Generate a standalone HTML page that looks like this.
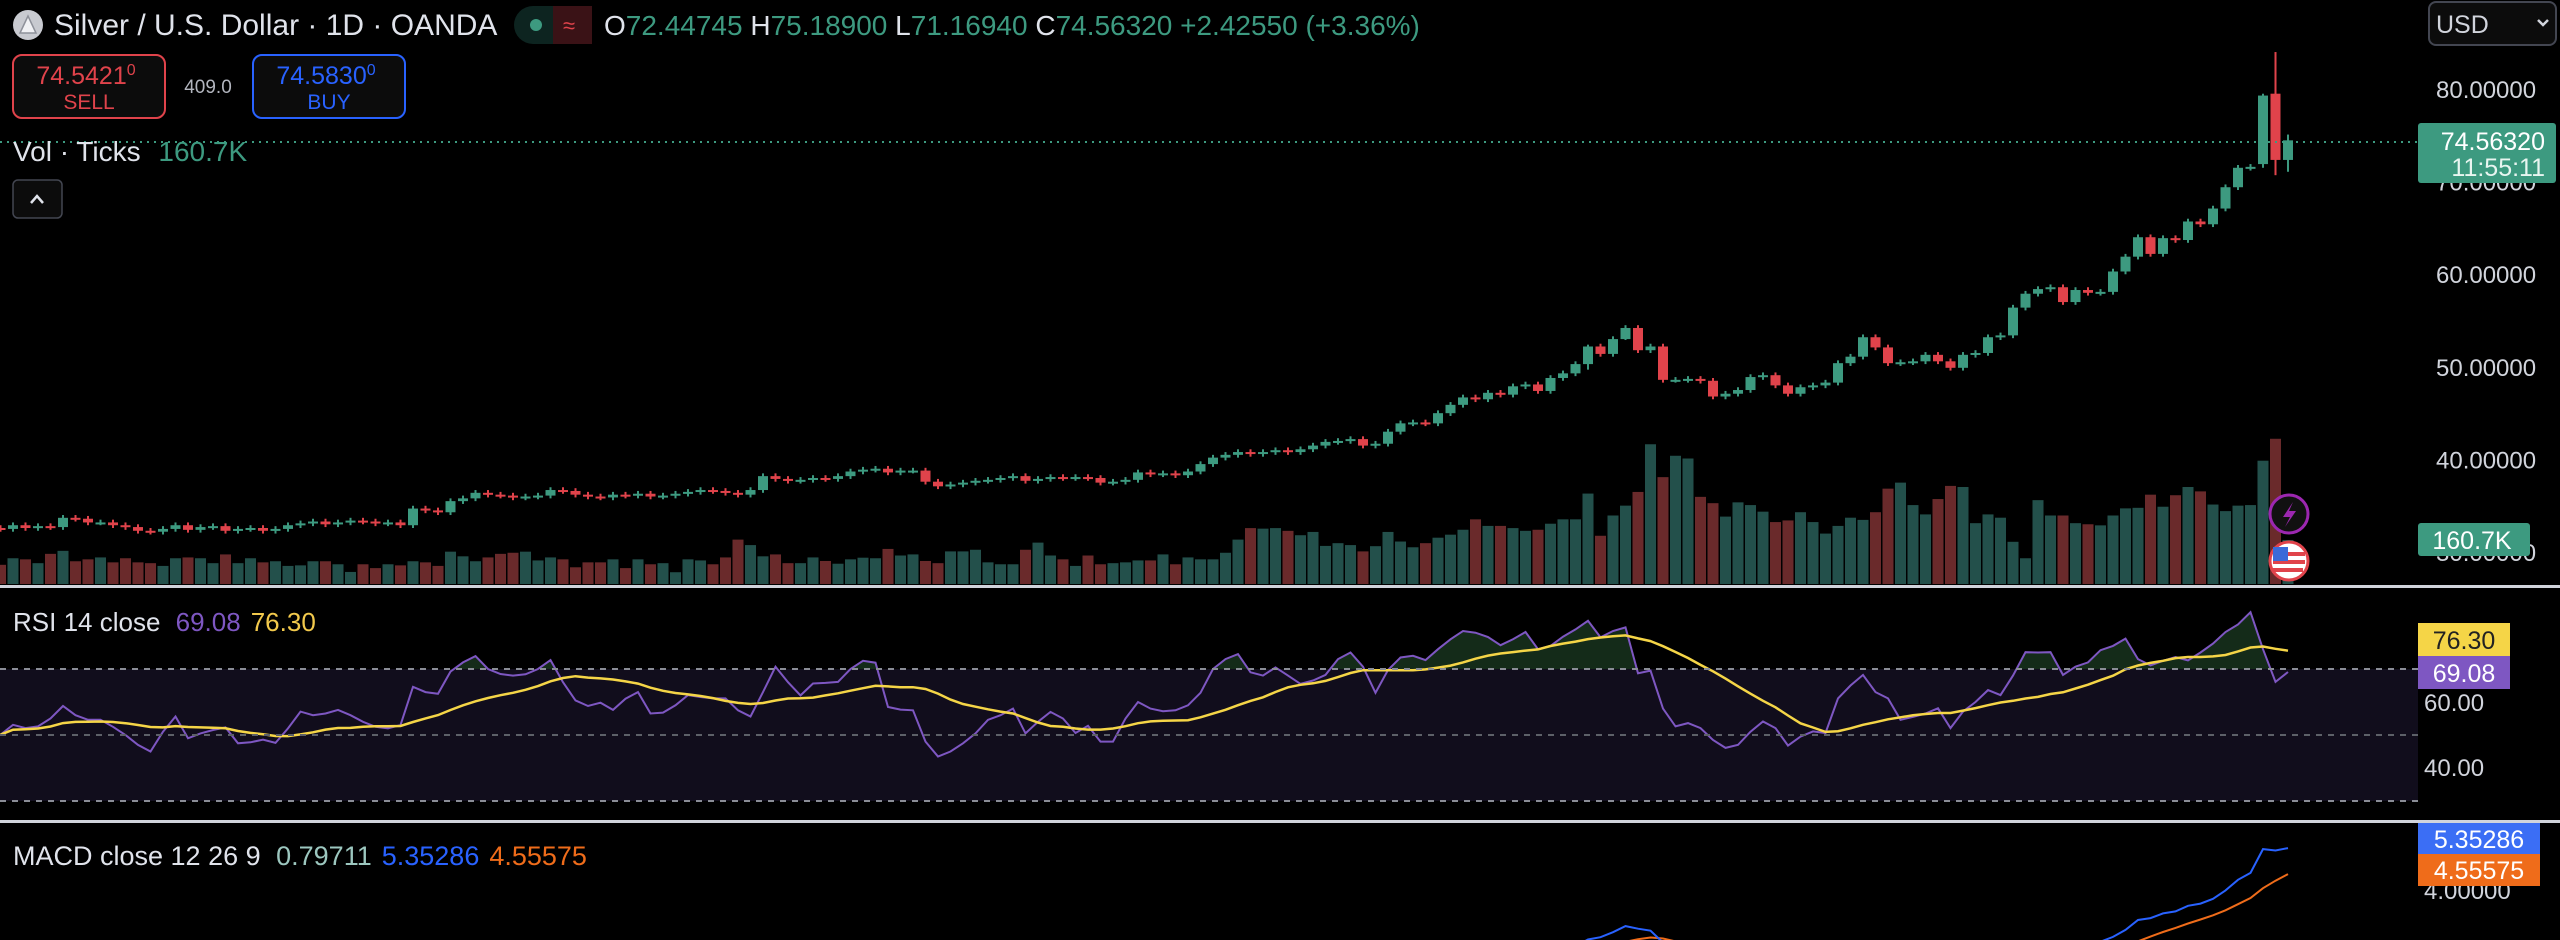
<!DOCTYPE html>
<html><head><meta charset="utf-8">
<style>
html,body{margin:0;padding:0;background:#000;width:2560px;height:940px;overflow:hidden;}
body{font-family:"Liberation Sans",sans-serif;}
svg{display:block;position:absolute;left:0;top:0;}
svg text{font-family:"Liberation Sans",sans-serif;}
</style></head>
<body>
<svg id="chart" width="2560" height="940" viewBox="0 0 2560 940" xmlns="http://www.w3.org/2000/svg">
  <rect x="0" y="0" width="2560" height="940" fill="#000"/>
  <rect x="0" y="669" width="2418" height="132" fill="#110d1c"/>
  <g id="rsiFillG"></g>
  <g id="volG"></g>
  <g id="candleG"></g>
  <g id="rsiG"></g>
  <g id="macdG"></g>

  <rect x="0" y="585" width="2560" height="3" fill="#d1d4dc"/>
  <rect x="0" y="820" width="2560" height="3" fill="#d1d4dc"/>

  <line x1="0" y1="669" x2="2418" y2="669" stroke="#8a8d96" stroke-width="2" stroke-dasharray="6,6"/>
  <line x1="0" y1="735" x2="2418" y2="735" stroke="#5d6068" stroke-width="2" stroke-dasharray="6,6"/>
  <line x1="0" y1="801" x2="2418" y2="801" stroke="#8a8d96" stroke-width="2" stroke-dasharray="6,6"/>

  <line x1="0" y1="142" x2="2418" y2="142" stroke="#3d9a80" stroke-width="2" stroke-dasharray="2,5"/>

  <circle cx="28" cy="25" r="15" fill="#c8cad0"/>
  <path d="M20 33 L28 16 L36 33 Z" fill="#f0f1f4" stroke="#8e919a" stroke-width="1.5"/>
  <text x="54" y="35" font-size="30" fill="#e0e3eb">Silver / U.S. Dollar · 1D · OANDA</text>
  <g>
    <rect x="514" y="6" width="78" height="38" rx="19" fill="#0d2420"/>
    <rect x="553" y="6" width="39" height="38" fill="#3a1216"/>
    <circle cx="536" cy="25" r="6" fill="#3d9a80"/>
    <text x="563" y="33" font-size="22" fill="#e0434b">≈</text>
  </g>
  <text x="604" y="35" font-size="28" fill="#3d9a80"><tspan fill="#e0e3eb">O</tspan>72.44745 <tspan fill="#e0e3eb">H</tspan>75.18900 <tspan fill="#e0e3eb">L</tspan>71.16940 <tspan fill="#e0e3eb">C</tspan>74.56320 +2.42550 (+3.36%)</text>

  <g>
    <rect x="13" y="55" width="152" height="63" rx="9" fill="#0c0c0c" stroke="#e0434b" stroke-width="2"/>
    <text x="86" y="84" font-size="25" fill="#e0434b" text-anchor="middle">74.5421<tspan font-size="16" dy="-9">0</tspan></text>
    <text x="89" y="109" font-size="21" fill="#e0434b" text-anchor="middle">SELL</text>
  </g>
  <text x="208" y="93" font-size="19" fill="#b2b5be" text-anchor="middle">409.0</text>
  <g>
    <rect x="253" y="55" width="152" height="63" rx="9" fill="#0c0c0c" stroke="#2962ff" stroke-width="2"/>
    <text x="326" y="84" font-size="25" fill="#2962ff" text-anchor="middle">74.5830<tspan font-size="16" dy="-9">0</tspan></text>
    <text x="329" y="109" font-size="21" fill="#2962ff" text-anchor="middle">BUY</text>
  </g>
  <text x="13" y="161" font-size="28" fill="#e0e3eb">Vol · Ticks <tspan fill="#3d9a80" dx="10">160.7K</tspan></text>
  <g>
    <rect x="13" y="180" width="49" height="38" rx="5" fill="#0c0c0c" stroke="#434651" stroke-width="1.5"/>
    <path d="M31 203 L37 196 L43 203" fill="none" stroke="#e0e3eb" stroke-width="2.5"/>
  </g>

  <g>
    <rect x="2429" y="2" width="127" height="43" rx="7" fill="#0c0c0c" stroke="#434651" stroke-width="2"/>
    <text x="2436" y="33" font-size="25" fill="#d1d4dc">USD</text>
    <path d="M2538 20 L2543 25 L2548 20" fill="none" stroke="#d1d4dc" stroke-width="2.5"/>
  </g>

  <g id="axisG" font-size="24" fill="#d1d4dc"></g>

  <g>
    <rect x="2418" y="123" width="138" height="60" rx="3" fill="#3d9a80"/>
    <text x="2545" y="150" font-size="25" fill="#fff" text-anchor="end">74.56320</text>
    <text x="2545" y="176" font-size="25" fill="#e8f5f0" text-anchor="end">11:55:11</text>
  </g>
  <g>
    <rect x="2418" y="523" width="112" height="33" rx="3" fill="#3d9a80"/>
    <text x="2472" y="549" font-size="25" fill="#fff" text-anchor="middle">160.7K</text>
  </g>

  <g>
    <circle cx="2289" cy="514" r="19" fill="#111" stroke="#9c27b0" stroke-width="3"/>
    <path d="M2293 502 L2283 517 L2290 517 L2285 527 L2296 511 L2289 511 Z" fill="#9c27b0"/>
  </g>
  <g>
    <circle cx="2289" cy="561" r="19" fill="#fff" stroke="#e0434b" stroke-width="3"/>
    <rect x="2273" y="552" width="32" height="4" fill="#e0434b"/>
    <rect x="2273" y="560" width="32" height="4" fill="#e0434b"/>
    <rect x="2273" y="568" width="30" height="4" fill="#e0434b"/>
    <rect x="2273" y="547" width="15" height="14" fill="#3b6ad8"/>
  </g>

  <text x="13" y="631" font-size="26" fill="#e0e3eb">RSI 14 close <tspan fill="#7e57c2" dx="8">69.08</tspan><tspan fill="#f2c94c" dx="10">76.30</tspan></text>
  <g>
    <rect x="2418" y="623" width="92" height="33" fill="#f5d547"/>
    <text x="2464" y="649" font-size="25" fill="#222" text-anchor="middle">76.30</text>
  </g>
  <g>
    <rect x="2418" y="656" width="92" height="33" fill="#7e57c2"/>
    <text x="2464" y="682" font-size="25" fill="#fff" text-anchor="middle">69.08</text>
  </g>
  <text x="2424" y="711" font-size="24" fill="#d1d4dc">60.00</text>
  <text x="2424" y="776" font-size="24" fill="#d1d4dc">40.00</text>

  <text x="13" y="865" font-size="27" fill="#e0e3eb">MACD close 12 26 9 <tspan fill="#9cc7bf" dx="8">0.79711</tspan><tspan fill="#2962ff" dx="10">5.35286</tspan><tspan fill="#ef6c1a" dx="10">4.55575</tspan></text>
  <text x="2424" y="899" font-size="24" fill="#d1d4dc">4.00000</text>
  <g>
    <rect x="2418" y="823" width="122" height="31" fill="#3b6ef5"/>
    <text x="2479" y="848" font-size="25" fill="#fff" text-anchor="middle">5.35286</text>
  </g>
  <g>
    <rect x="2418" y="854" width="122" height="32" fill="#ef6c1a"/>
    <text x="2479" y="879" font-size="25" fill="#fff" text-anchor="middle">4.55575</text>
  </g>
</svg>
<script>
const closes = [32.6,33.0,32.7,32.9,32.8,33.8,33.7,33.3,33.3,33.0,32.8,32.4,32.3,32.6,33.0,32.5,32.8,32.9,32.4,32.6,
32.7,32.4,32.6,33.0,33.2,33.4,33.1,33.3,33.5,33.4,33.2,33.3,33.0,34.8,34.6,34.4,35.6,35.9,36.5,36.3,
36.2,36.0,36.1,36.2,36.8,36.7,36.3,36.1,36.0,36.3,36.2,36.4,36.1,36.2,36.4,36.6,36.8,36.7,36.5,36.3,
36.8,38.3,38.0,37.8,37.9,38.1,38.0,38.3,38.8,39.0,39.1,38.7,38.9,38.9,37.7,37.2,37.4,37.6,37.8,37.9,
38.1,38.3,37.8,38.0,38.2,38.1,38.2,38.1,37.6,37.7,37.9,38.7,38.5,38.6,38.4,38.8,39.6,40.3,40.6,40.9,
40.7,40.9,41.1,40.9,41.2,41.6,42.0,42.1,42.3,41.6,41.8,43.1,44.0,44.1,44.0,45.1,46.0,46.8,46.6,47.3,
47.1,48.0,48.2,47.5,48.9,49.4,50.4,52.3,51.5,53.1,54.3,51.9,52.3,48.7,48.7,48.8,48.6,46.9,47.2,47.6,
49.0,49.2,48.1,47.2,47.9,48.1,48.4,50.5,51.2,53.3,52.2,50.5,50.6,50.7,51.4,50.7,50.0,51.4,51.6,53.3,
53.5,56.5,58.0,58.5,58.7,57.1,58.4,58.1,58.2,60.4,62.0,64.1,62.3,64.0,63.8,65.8,65.5,67.2,69.5,71.6,
71.7,79.4,72.45,74.5632];
const openOverrides = {0:32.7, 181:72.0, 182:79.6, 183:72.44745};
const highLowOverrides = {181:[79.6,71.6], 182:[84.1,70.8], 183:[75.189,71.1694], 130:[54.6,53.0], 127:[52.5,49.8]};
const volumesK = [70,94,90,76,110,121,83,90,97,79,94,79,76,66,94,97,94,76,108,76,94,79,83,66,68,83,83,72,44,72,
58,72,68,83,79,66,118,101,83,97,110,114,118,86,97,90,61,79,79,90,58,90,72,76,43,90,86,72,97,162,
142,101,108,76,76,97,84,74,90,96,
94,128,104,108,84,76,119,119,125,79,72,72,125,151,104,90,66,104,72,76,79,86,86,108,72,97,90,90,114,162,
204,202,204,194,178,190,139,149,142,119,138,190,155,134,149,169,180,198,236,212,212,204,194,198,220,236,236,330,
176,250,286,336,510,390,468,458,318,295,246,298,288,264,226,232,262,226,184,212,242,234,262,348,370,288,254,310,358,354,
222,254,242,154,94,306,250,250,222,218,214,250,276,278,326,282,324,354,338,290,266,286,288,450,530,160.7];
const rsiValues = [50.1,53.1,52.1,52.6,55,58.8,56,54.6,54.6,52.5,50,47,45,51,55.6,49,50.5,51.5,52.3,47.5,
47.8,48.6,47.6,52,57.1,56,56.5,57.6,56,54,52.5,52,53,64.6,63,62.5,69.2,72,73.9,70,
68.5,68,68.4,70,72.7,66,60.5,58.8,59.8,57.6,61,63,56.5,56.8,59,62.1,61.5,61.1,61.1,57.5,
55.6,63,70.7,66,62,65.6,65.8,66.1,70,72.5,71.9,58.5,57.7,57.5,48,43.5,45,47.5,50.5,54.6,
56,58,50.5,54,57,55,50.6,52.8,48,48,55,60,58,57.2,57.5,59,62.8,70,73,74.5,
69,68,70.5,68,65.5,66.5,68.2,73,75,70.7,62.8,69.7,73.5,74,72.7,76,79,81.5,81,79.7,
77.2,79,81.2,76,77,79.8,82,84.6,79.6,81.5,82.6,68.7,69.5,58,52.6,53.6,52.1,48.5,46.1,47,
51,54.1,52.1,46.8,49.5,51.1,50.6,61.1,65,68.2,63,61.1,54.6,55.5,56.5,58.1,52.1,57.1,60,63.6,
62.1,68,75.1,75,75.1,68.2,70.7,72,75.7,77,79.2,73,71.1,72.5,73.6,72.6,75,77.7,81.2,83.5,
87.2,76,66.1,69.08];
const priceTicks = [80,70,60,50,40,30];
const priceTickLabels = ["80.00000","70.00000","60.00000","50.00000","40.00000","30.00000"];

const NS="http://www.w3.org/2000/svg";
const N=closes.length;
const STEP=12.5, LASTX=2288;
function xOf(i){return LASTX-(N-1-i)*STEP;}
function yPrice(p){return 90+(80-p)*9.26;}
function yVol(v){return 584-v*0.274;}
function yRsi(r){return 735-(r-50)*3.3;}
function yMacd(m){return 890-(m-4)*32.6;}
function mk(tag,attrs,parent){const e=document.createElementNS(NS,tag);for(const k in attrs)e.setAttribute(k,attrs[k]);parent.appendChild(e);return e;}

const GREEN="#3d9a80", RED="#e0434b", VGREEN="#23504b", VRED="#6a2a2b";
const candleG=document.getElementById('candleG');
const volG=document.getElementById('volG');
const opens=[];
for(let i=0;i<N;i++){opens.push(openOverrides[i]!==undefined?openOverrides[i]:closes[i-1]);}
for(let i=0;i<N;i++){
  const o=opens[i], c=closes[i];
  const up=c>=o;
  let hi=Math.max(o,c)+0.3, lo=Math.min(o,c)-0.3;
  if(highLowOverrides[i]){hi=highLowOverrides[i][0];lo=highLowOverrides[i][1];}
  const x=xOf(i);
  const v=volumesK[i]||0;
  const vb=mk('rect',{x:x-5.5,y:yVol(v),width:11,height:584-yVol(v),fill:up?VGREEN:VRED},volG);
  
  
  const g=mk('g',{},candleG);
  
  
  const col=up?GREEN:RED;
  mk('line',{x1:x,x2:x,y1:yPrice(hi),y2:yPrice(lo),stroke:col,'stroke-width':2},g);
  const y1=yPrice(Math.max(o,c)), y2=yPrice(Math.min(o,c));
  mk('rect',{x:x-5,y:y1,width:10,height:Math.max(2,y2-y1),fill:col},g);
}

const axisG=document.getElementById('axisG');
priceTicks.forEach((p,k)=>{
  const t=mk('text',{x:2436,y:yPrice(p)+8},axisG);
  
  
  t.textContent=priceTickLabels[k];
});

const rsiG=document.getElementById('rsiG');
const rsiMa=[];
for(let i=0;i<N;i++){let s=0,n=0;for(let j=Math.max(0,i-13);j<=i;j++){s+=rsiValues[j];n++;}rsiMa.push(s/n);}
let d='';
for(let i=0;i<N;i++){d+=(i?'L':'M')+xOf(i).toFixed(1)+' '+yRsi(rsiValues[i]).toFixed(1);}
const fillG=document.getElementById('rsiFillG');
const cp=mk('clipPath',{id:'obClip'},fillG);
mk('rect',{x:0,y:590,width:2418,height:79},cp);
const fillPath=mk('path',{d:d+'L'+xOf(N-1)+' 669 L'+xOf(0)+' 669 Z',fill:'#1b3a22','fill-opacity':0.75,'clip-path':'url(#obClip)'},fillG);


const rl=mk('path',{d:d,fill:'none',stroke:'#7e57c2','stroke-width':2},rsiG);


let dm='';
for(let i=0;i<N;i++){dm+=(i?'L':'M')+xOf(i).toFixed(1)+' '+yRsi(rsiMa[i]).toFixed(1);}
const ml=mk('path',{d:dm,fill:'none',stroke:'#f5d547','stroke-width':2.5},rsiG);



function ema(arr,p){const k=2/(p+1);const out=[arr[0]];for(let i=1;i<arr.length;i++)out.push(arr[i]*k+out[i-1]*(1-k));return out;}
const e12=ema(closes,12), e26=ema(closes,26);
const macd=closes.map((_,i)=>e12[i]-e26[i]);
const sig=ema(macd,9);
const macdG=document.getElementById('macdG');
const mc=mk('clipPath',{id:'macdClip'},macdG);
mk('rect',{x:0,y:823,width:2418,height:117},mc);
let p1='',p2='';
for(let i=0;i<N;i++){p1+=(i?'L':'M')+xOf(i).toFixed(1)+' '+yMacd(macd[i]).toFixed(1);p2+=(i?'L':'M')+xOf(i).toFixed(1)+' '+yMacd(sig[i]).toFixed(1);}
const sl=mk('path',{d:p2,fill:'none',stroke:'#ef6c1a','stroke-width':2,'clip-path':'url(#macdClip)'},macdG);


const mline=mk('path',{d:p1,fill:'none',stroke:'#2962ff','stroke-width':2,'clip-path':'url(#macdClip)'},macdG);


</script>
</body></html>
